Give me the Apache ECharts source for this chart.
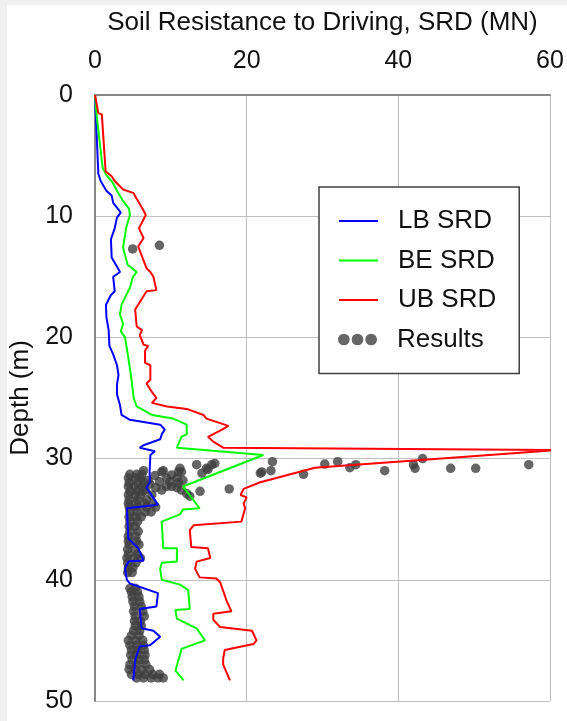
<!DOCTYPE html>
<html><head><meta charset="utf-8">
<script src="https://cdn.jsdelivr.net/npm/echarts@6/dist/echarts.min.js"></script>
<style>
html,body{margin:0;padding:0;background:#f0f0f0;overflow:hidden;}
#panel{position:absolute;left:7px;top:5px;right:0;bottom:0;background:#fff;}
#chart{position:absolute;left:0;top:0;width:567px;height:721px;}
</style></head><body>
<div id="panel"></div><div id="chart"></div>
<script>
// Tick values
const srdTicks = [0, 20, 40, 60];
const depthTicks = [0, 10, 20, 30, 40, 50];

// [SRD (MN), depth (m)]
const lbSRD = [[0,0],[0.2,3],[0.44,6.5],[0.75,7.1],[1.5,7.9],[2.2,8.3],[2.4,8.9],[2.9,9.3],[3.4,9.7],[2.9,10.1],[2.6,11.0],[2.1,11.9],[2.2,13.4],[3.3,14.6],[2.4,15.0],[2.6,16.2],[2.1,16.5],[1.45,17.3],[1.5,18.3],[1.8,19.4],[1.9,20.7],[2.4,21.4],[2.9,22.3],[3.1,23.1],[2.9,23.9],[2.9,24.7],[3.3,25.6],[3.5,26.4],[4.6,26.8],[8.6,27.2],[9.2,27.6],[8.8,28.0],[8.6,28.4],[6.4,28.9],[5.9,29.1],[7.9,29.4],[7.3,29.7],[7.2,31.1],[7.25,31.9],[6.8,32.4],[8.3,33.8],[4.2,34.1],[4.4,36.6],[5.7,37.4],[5.9,37.5],[6.4,38.4],[4.4,38.5],[3.96,39.1],[4.2,40.0],[4.6,40.3],[8.3,41.1],[8.1,42.2],[5.9,42.4],[6.15,44.0],[7.7,44.2],[8.6,44.7],[7.25,45.4],[5.9,45.5],[5.3,46.6],[5.05,48.3]];

const beSRD = [[0,0],[0.2,1.6],[1.0,6.0],[1.45,6.56],[2.3,7.2],[2.9,7.9],[3.7,8.75],[4.5,9.4],[4.6,9.9],[4.1,11.0],[3.7,12.6],[4.3,14.0],[5.5,14.6],[5.0,15.0],[4.6,15.9],[3.5,17.3],[3.3,18.1],[3.7,18.9],[3.4,19.5],[3.96,20.0],[4.4,21.7],[4.8,23.4],[5.1,25.0],[5.5,25.7],[7.5,26.4],[10.3,26.7],[12.1,27.2],[12.1,28.0],[11.4,28.2],[10.8,29.1],[22.2,29.7],[11.6,32.3],[13.8,34.1],[11.6,34.2],[11.2,34.6],[8.8,35.2],[9.0,37.4],[10.8,37.4],[10.8,38.5],[8.8,38.6],[8.6,39.1],[8.8,40.0],[11.2,40.4],[12.3,40.85],[12.5,42.4],[10.6,42.5],[10.8,43.2],[13.4,44.0],[14.5,45.0],[11.4,45.7],[11.2,46.2],[10.6,47.5],[11.7,48.3]];

const ubSRD = [[0,0],[0.44,1.5],[0.9,1.6],[1.4,6.3],[2.2,6.7],[2.6,7.1],[3.7,7.8],[5.1,8.1],[5.3,8.35],[6.2,9.3],[6.7,9.9],[5.8,11.0],[6.4,11.8],[5.7,12.5],[6.8,14.3],[7.3,14.6],[7.7,15.0],[8.1,16.1],[6.8,16.2],[5.3,17.7],[5.5,19.1],[6.2,19.4],[5.9,19.8],[6.4,20.6],[7.0,20.7],[6.6,21.1],[6.6,22.1],[7.3,22.3],[7.3,23.5],[6.8,23.8],[7.5,24.5],[8.1,25.0],[7.5,25.4],[9.5,25.7],[12.1,25.9],[14.3,26.4],[14.7,26.7],[17.6,27.3],[16.5,27.7],[14.9,28.2],[15.6,28.6],[16.9,29.1],[60.8,29.3],[29.0,30.75],[21.8,31.95],[19.6,32.5],[19.2,33.0],[20.0,33.2],[19.6,33.7],[19.8,34.1],[19.3,35.2],[13.0,35.5],[12.5,35.9],[12.7,37.3],[14.9,37.4],[15.2,38.2],[13.4,38.5],[13.2,39.1],[13.8,39.8],[16.0,39.9],[16.5,40.2],[17.4,41.8],[18.0,42.6],[15.6,42.8],[15.6,43.3],[16.5,43.9],[20.7,44.2],[21.3,45.0],[20.9,45.3],[17.1,45.8],[16.9,46.5],[16.9,47.0],[17.8,48.3]];

const results = [
[4.97,12.7],[8.5,12.4],
[57.2,30.5],[50.2,30.8],[46.9,30.8],[43.2,30.0],[42.0,30.5],[42.2,30.8],[38.2,31.0],[34.4,30.5],[33.6,30.75],[32.0,30.25],[30.3,30.45],[27.5,31.3],[23.4,30.25],[23.2,31.0],[22.0,31.1],[21.8,31.2],
[15.8,30.4],[15.4,30.5],[14.7,30.8],[14.9,30.9],[13.4,30.5],[14.1,31.2],[13.85,32.7],[17.7,32.5],
[11.2,30.8],[11.0,31.1],[9.0,31.0],[6.4,31.0],[7.9,31.4],[8.8,31.1],[9.45,31.6],[10.1,31.35],[10.8,31.6],[11.4,31.1],[7.25,32.1],[8.0,32.4],[8.8,32.6],[9.45,32.3],[10.1,32.3],[10.8,32.4],[11.4,32.6],[12.1,32.9],[12.5,33.1],[7.0,31.8],[8.5,31.9],[9.9,31.9],[11.6,31.8],[6.6,32.6],[7.5,33.0],[6.8,33.4],[11.0,32.0],
[4.6,31.3],[5.5,31.3],[6.2,31.3],[4.4,31.6],[5.3,31.6],[6.0,31.6],[4.5,32.0],[5.6,32.0],[6.4,32.0],[4.4,32.3],[5.2,32.3],[6.2,32.3],[4.6,32.7],[5.5,32.7],[6.3,32.7],[4.4,33.0],[5.3,33.0],[6.0,33.0],[4.5,33.4],[5.6,33.4],
[4.4,33.7],[5.4,33.7],[6.5,33.7],[7.6,33.7],[4.5,34.0],[5.6,34.0],[6.8,34.0],[8.0,34.0],[4.6,34.4],[5.5,34.4],[6.6,34.4],[7.4,34.4],[4.5,34.8],[5.4,34.8],[6.1,34.8],
[4.6,35.2],[5.6,35.2],[4.5,35.6],[5.3,35.6],[4.6,36.0],[5.7,36.0],[4.4,36.4],[5.4,36.4],[4.4,36.8],[5.5,36.8],[4.5,37.1],[5.8,37.1],[4.3,37.5],[5.3,37.5],[4.4,37.9],[5.6,37.9],[4.2,38.2],[5.2,38.2],[6.0,38.2],[4.3,38.6],[5.4,38.6],[4.4,39.0],[5.0,39.0],[4.3,39.4],[4.9,39.4],
[4.6,40.7],[5.3,40.7],[4.8,41.0],[5.6,41.0],[4.9,41.4],[5.8,41.4],[5.0,41.8],[5.9,41.8],[5.2,42.2],[6.1,42.2],[5.1,42.6],[6.3,42.6],[5.3,43.0],[6.5,43.0],[5.2,43.4],[6.0,43.4],[5.3,43.8],[6.1,43.8],[5.1,44.2],[5.9,44.2],[4.8,44.6],[5.8,44.6],
[4.4,45.0],[5.4,45.0],[6.3,45.0],[4.6,45.4],[5.5,45.4],[6.4,45.4],[4.8,45.8],[5.6,45.8],[6.5,45.8],[4.7,46.2],[5.5,46.2],[6.6,46.2],[4.9,46.6],[5.8,46.6],[6.5,46.6],[4.6,47.0],[5.5,47.0],[6.7,47.0],
[4.5,47.4],[5.3,47.4],[6.2,47.4],[7.2,47.4],[4.8,47.8],[5.7,47.8],[6.6,47.8],[7.6,47.8],[8.5,47.8],[5.5,48.1],[6.4,48.1],[7.4,48.1],[8.3,48.1],[9.0,48.1]
];

const FONT = '"Liberation Sans", Arial, Helvetica, sans-serif';
const TXT = '#111';
const threeDots = 'path://M0,6A6,6,0,1,1,12,6A6,6,0,1,1,0,6ZM14,6A6,6,0,1,1,26,6A6,6,0,1,1,14,6ZM28,6A6,6,0,1,1,40,6A6,6,0,1,1,28,6Z';
const legendText = {fontSize: 26, color: TXT, fontFamily: FONT, lineHeight: 26, padding: [0, 0, 0, 15]};

const chart = echarts.init(document.getElementById('chart'), null, {renderer: 'canvas'});
chart.setOption({
  animation: false,
  backgroundColor: 'transparent',
  grid: {left: 95, top: 95, right: 17, bottom: 20, containLabel: false, outerBoundsMode: 'none'},
  xAxis: {
    type: 'value', position: 'top',
    min: srdTicks[0], max: srdTicks[srdTicks.length - 1], interval: srdTicks[1] - srdTicks[0],
    name: 'Soil Resistance to Driving, SRD (MN)', nameLocation: 'middle', nameGap: 59,
    nameTextStyle: {fontSize: 26, color: TXT, fontFamily: FONT},
    axisLine: {show: true, onZero: false, lineStyle: {color: '#878787', width: 2}},
    axisTick: {show: false},
    axisLabel: {fontSize: 25, color: TXT, fontFamily: FONT, margin: 21},
    splitLine: {show: true, lineStyle: {color: '#bfbfbf', width: 1}}
  },
  yAxis: {
    type: 'value', inverse: true,
    min: depthTicks[0], max: depthTicks[depthTicks.length - 1], interval: depthTicks[1] - depthTicks[0],
    name: 'Depth (m)', nameLocation: 'middle', nameGap: 59,
    nameTextStyle: {fontSize: 26, color: TXT, fontFamily: FONT},
    axisLine: {show: true, onZero: false, lineStyle: {color: '#878787', width: 2}},
    axisTick: {show: false},
    axisLabel: {fontSize: 25, color: TXT, fontFamily: FONT, margin: 22},
    splitLine: {show: true, lineStyle: {color: '#bfbfbf', width: 1}}
  },
  legend: [
    {
      orient: 'vertical', left: 319, top: 187,
      itemWidth: 39, itemHeight: 2, itemGap: 13.5,
      padding: [21, 23, 60.5, 19],
      backgroundColor: '#fff', borderColor: '#404040', borderWidth: 1.5,
      selectedMode: false, z: 4,
      textStyle: legendText,
      data: ['LB SRD', 'BE SRD', 'UB SRD']
    },
    {
      orient: 'vertical', left: 319, top: 326.5,
      itemWidth: 39, itemHeight: 12,
      padding: [0, 23, 0, 19],
      selectedMode: false, z: 6,
      textStyle: legendText,
      data: [{name: 'Results', icon: threeDots}]
    }
  ],
  series: [
    {name: 'Results', type: 'scatter', data: results, symbol: 'circle', symbolSize: 9.5,
     itemStyle: {color: '#404040'}, z: 2, silent: true},
    {name: 'LB SRD', type: 'line', data: lbSRD, symbol: 'none', showSymbol: false,
     lineStyle: {color: '#0000ff', width: 2}, itemStyle: {color: '#0000ff'}, z: 3, silent: true},
    {name: 'BE SRD', type: 'line', data: beSRD, symbol: 'none', showSymbol: false,
     lineStyle: {color: '#00ff00', width: 2}, itemStyle: {color: '#00ff00'}, z: 3, silent: true},
    {name: 'UB SRD', type: 'line', data: ubSRD, symbol: 'none', showSymbol: false, clip: false,
     lineStyle: {color: '#ff0000', width: 2}, itemStyle: {color: '#ff0000'}, z: 3, silent: true}
  ]
});
</script></body></html>
